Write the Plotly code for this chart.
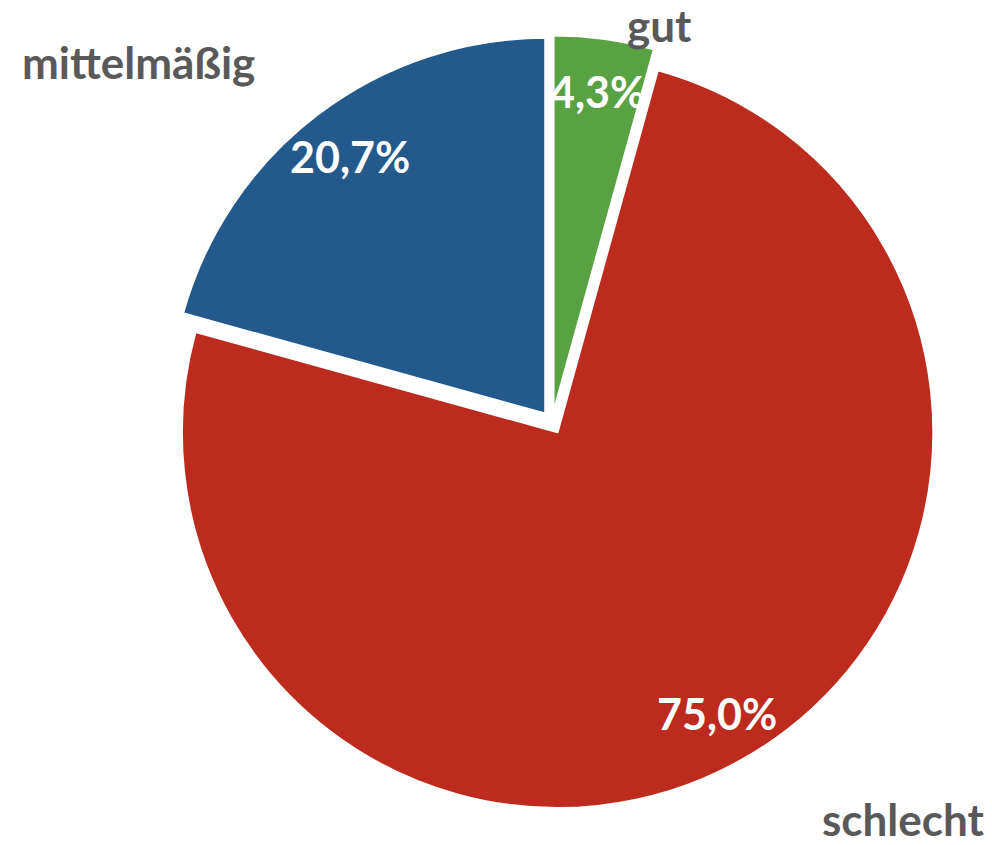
import numpy as np
import plotly.graph_objects as go

categories = ["gut", "schlecht", "mittelmäßig"]
shares = [4.3, 75.0, 20.7]
colors = ["#59A243", "#BD2A1E", "#23598B"]

# layout constants
W, H = 992, 845
dom_x = [0.1664, 0.9466]
dom_y = [0.042, 0.958]
pull = 0.03
label_frac = 0.86  # percentage labels at this fraction of the radius, on each slice's bisector
# category label positions (paper coordinates)
cat_pos = {"gut": (0.665, 0.970), "mittelmäßig": (0.140, 0.927), "schlecht": (0.911, 0.031)}

fig = go.Figure()
fig.add_trace(go.Pie(
    labels=categories, values=shares, sort=False, direction="clockwise", rotation=0,
    marker=dict(colors=colors, line=dict(color="white", width=2)),
    pull=[pull] * len(shares), domain=dict(x=dom_x, y=dom_y),
    textinfo="none", showlegend=False, hoverinfo="skip",
))

# geometry as plotly computes it (zero margins)
rx = W * (dom_x[1] - dom_x[0]) / 2
ry = H * (dom_y[1] - dom_y[0]) / 2
r = min(rx, ry) / (1 + pull)
cx = W * (dom_x[0] + dom_x[1]) / 2
cy = H * (1 - (dom_y[0] + dom_y[1]) / 2)

total = sum(shares)
cum = np.cumsum([0] + shares)
for i, (cat, v) in enumerate(zip(categories, shares)):
    mid = 2 * np.pi * (cum[i] + v / 2) / total
    dx, dy = np.sin(mid), -np.cos(mid)
    px = cx + (pull + label_frac) * r * dx
    py = cy + (pull + label_frac) * r * dy
    txt = f"{100 * v / total:.1f}%".replace(".", ",")
    fig.add_annotation(x=px / W, y=1 - py / H, xref="paper", yref="paper",
                       text=txt, showarrow=False, xanchor="center", yanchor="middle",
                       font=dict(family="Lato", size=43, color="white", weight="bold"))
    lx, ly = cat_pos[cat]
    fig.add_annotation(x=lx, y=ly, xref="paper", yref="paper",
                       text=cat, showarrow=False, xanchor="center", yanchor="middle",
                       borderpad=0,
                       font=dict(family="Lato", size=44, color="#595959", weight="bold"))

fig.update_layout(
    width=W, height=H, margin=dict(l=0, r=0, t=0, b=0),
    paper_bgcolor="white", plot_bgcolor="white",
)
fig.write_html("out.html", config={"displayModeBar": False},
               post_script="document.body.style.margin='0px';")
